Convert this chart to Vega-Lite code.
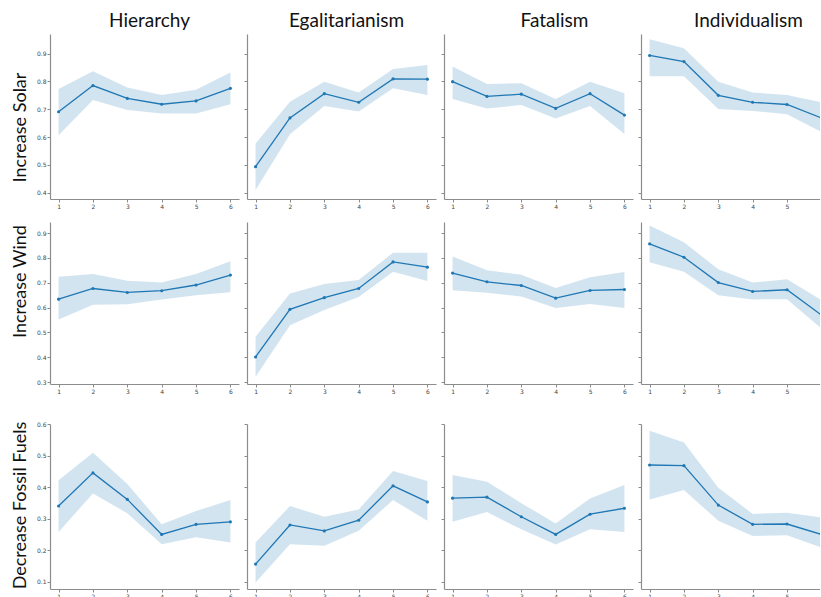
{
"$schema": "https://vega.github.io/schema/vega-lite/v6.json",
"padding": {"left": 10, "top": 12, "right": 0, "bottom": 0},
"config": {
  "view": {"stroke": null},
  "axis": {"domainColor": "#8c8c8c", "tickColor": "#8c8c8c", "labelColor": "#444", "labelFont": "DejaVu Sans", "labelFontSize": 6, "tickSize": 3, "labelPadding": 1, "grid": false, "domainWidth": 1.2},
  "title": {"font": "Lato", "fontSize": 19, "fontWeight": "normal", "color": "#111"}
},
"datasets": {"d": [
{"c":"H","o":"S","x":1,"m":0.691,"lo":0.607,"hi":0.773},
{"c":"H","o":"S","x":2,"m":0.785,"lo":0.733,"hi":0.836},
{"c":"H","o":"S","x":3,"m":0.739,"lo":0.697,"hi":0.778},
{"c":"H","o":"S","x":4,"m":0.718,"lo":0.685,"hi":0.751},
{"c":"H","o":"S","x":5,"m":0.730,"lo":0.685,"hi":0.770},
{"c":"H","o":"S","x":6,"m":0.775,"lo":0.718,"hi":0.832},
{"c":"E","o":"S","x":1,"m":0.494,"lo":0.410,"hi":0.577},
{"c":"E","o":"S","x":2,"m":0.669,"lo":0.610,"hi":0.727},
{"c":"E","o":"S","x":3,"m":0.756,"lo":0.712,"hi":0.799},
{"c":"E","o":"S","x":4,"m":0.725,"lo":0.692,"hi":0.760},
{"c":"E","o":"S","x":5,"m":0.809,"lo":0.775,"hi":0.844},
{"c":"E","o":"S","x":6,"m":0.808,"lo":0.751,"hi":0.859},
{"c":"F","o":"S","x":1,"m":0.799,"lo":0.737,"hi":0.853},
{"c":"F","o":"S","x":2,"m":0.746,"lo":0.703,"hi":0.791},
{"c":"F","o":"S","x":3,"m":0.754,"lo":0.715,"hi":0.793},
{"c":"F","o":"S","x":4,"m":0.703,"lo":0.667,"hi":0.737},
{"c":"F","o":"S","x":5,"m":0.756,"lo":0.712,"hi":0.799},
{"c":"F","o":"S","x":6,"m":0.679,"lo":0.611,"hi":0.757},
{"c":"I","o":"S","x":1,"m":0.893,"lo":0.818,"hi":0.951},
{"c":"I","o":"S","x":2,"m":0.871,"lo":0.818,"hi":0.919},
{"c":"I","o":"S","x":3,"m":0.750,"lo":0.701,"hi":0.799},
{"c":"I","o":"S","x":4,"m":0.725,"lo":0.694,"hi":0.760},
{"c":"I","o":"S","x":5,"m":0.717,"lo":0.682,"hi":0.751},
{"c":"I","o":"S","x":6,"m":0.669,"lo":0.619,"hi":0.725},
{"c":"H","o":"W","x":1,"m":0.634,"lo":0.552,"hi":0.724},
{"c":"H","o":"W","x":2,"m":0.677,"lo":0.611,"hi":0.735},
{"c":"H","o":"W","x":3,"m":0.661,"lo":0.613,"hi":0.708},
{"c":"H","o":"W","x":4,"m":0.668,"lo":0.633,"hi":0.701},
{"c":"H","o":"W","x":5,"m":0.691,"lo":0.650,"hi":0.735},
{"c":"H","o":"W","x":6,"m":0.731,"lo":0.662,"hi":0.787},
{"c":"E","o":"W","x":1,"m":0.401,"lo":0.321,"hi":0.482},
{"c":"E","o":"W","x":2,"m":0.593,"lo":0.529,"hi":0.657},
{"c":"E","o":"W","x":3,"m":0.640,"lo":0.590,"hi":0.695},
{"c":"E","o":"W","x":4,"m":0.677,"lo":0.643,"hi":0.711},
{"c":"E","o":"W","x":5,"m":0.784,"lo":0.744,"hi":0.821},
{"c":"E","o":"W","x":6,"m":0.763,"lo":0.707,"hi":0.821},
{"c":"F","o":"W","x":1,"m":0.739,"lo":0.670,"hi":0.806},
{"c":"F","o":"W","x":2,"m":0.704,"lo":0.660,"hi":0.751},
{"c":"F","o":"W","x":3,"m":0.689,"lo":0.645,"hi":0.732},
{"c":"F","o":"W","x":4,"m":0.638,"lo":0.598,"hi":0.679},
{"c":"F","o":"W","x":5,"m":0.669,"lo":0.614,"hi":0.722},
{"c":"F","o":"W","x":6,"m":0.673,"lo":0.598,"hi":0.743},
{"c":"I","o":"W","x":1,"m":0.857,"lo":0.783,"hi":0.931},
{"c":"I","o":"W","x":2,"m":0.803,"lo":0.744,"hi":0.863},
{"c":"I","o":"W","x":3,"m":0.701,"lo":0.650,"hi":0.755},
{"c":"I","o":"W","x":4,"m":0.665,"lo":0.633,"hi":0.701},
{"c":"I","o":"W","x":5,"m":0.672,"lo":0.634,"hi":0.714},
{"c":"I","o":"W","x":6,"m":0.570,"lo":0.516,"hi":0.630},
{"c":"H","o":"F","x":1,"m":0.340,"lo":0.258,"hi":0.422},
{"c":"H","o":"F","x":2,"m":0.445,"lo":0.380,"hi":0.509},
{"c":"H","o":"F","x":3,"m":0.361,"lo":0.317,"hi":0.410},
{"c":"H","o":"F","x":4,"m":0.250,"lo":0.219,"hi":0.282},
{"c":"H","o":"F","x":5,"m":0.282,"lo":0.241,"hi":0.324},
{"c":"H","o":"F","x":6,"m":0.290,"lo":0.224,"hi":0.359},
{"c":"E","o":"F","x":1,"m":0.156,"lo":0.098,"hi":0.224},
{"c":"E","o":"F","x":2,"m":0.280,"lo":0.219,"hi":0.340},
{"c":"E","o":"F","x":3,"m":0.261,"lo":0.214,"hi":0.306},
{"c":"E","o":"F","x":4,"m":0.295,"lo":0.262,"hi":0.329},
{"c":"E","o":"F","x":5,"m":0.404,"lo":0.359,"hi":0.451},
{"c":"E","o":"F","x":6,"m":0.353,"lo":0.293,"hi":0.419},
{"c":"F","o":"F","x":1,"m":0.365,"lo":0.290,"hi":0.438},
{"c":"F","o":"F","x":2,"m":0.368,"lo":0.321,"hi":0.417},
{"c":"F","o":"F","x":3,"m":0.306,"lo":0.266,"hi":0.349},
{"c":"F","o":"F","x":4,"m":0.250,"lo":0.218,"hi":0.285},
{"c":"F","o":"F","x":5,"m":0.314,"lo":0.266,"hi":0.364},
{"c":"F","o":"F","x":6,"m":0.333,"lo":0.258,"hi":0.407},
{"c":"I","o":"F","x":1,"m":0.470,"lo":0.361,"hi":0.579},
{"c":"I","o":"F","x":2,"m":0.468,"lo":0.391,"hi":0.541},
{"c":"I","o":"F","x":3,"m":0.343,"lo":0.293,"hi":0.398},
{"c":"I","o":"F","x":4,"m":0.282,"lo":0.245,"hi":0.315},
{"c":"I","o":"F","x":5,"m":0.283,"lo":0.247,"hi":0.319},
{"c":"I","o":"F","x":6,"m":0.250,"lo":0.209,"hi":0.304}
]},
"spacing": 13,
"vconcat": [
{"hconcat": [
 {"width": 189, "height": 165, "data": {"name": "d"},
  "title": {"text": "Hierarchy", "dx": 5, "offset": -16, "baseline": "bottom"},
  "transform": [{"filter": "datum.c == 'H' && datum.o == 'S'"}],
  "encoding": {"x": {"field": "x", "type": "quantitative", "scale": {"domain": [0.75, 6.25], "nice": false, "zero": false}, "axis": {"values": [1,2,3,4,5,6], "format": "d", "title": null}},
   "y": {"field": "m", "type": "quantitative", "scale": {"domain": [0.378, 0.97], "nice": false, "zero": false}, "axis": {"values": [0.4,0.5,0.6,0.7,0.8,0.9], "format": ".1f", "title": "Increase Solar", "titleFont": "Lato", "titleFontSize": 18, "titleFontWeight": "normal", "titleColor": "#111", "titleX": -25, "titleY": 93, "titleAlign": "center", "titleBaseline": "alphabetic"}}},
  "layer": [
   {"mark": {"type": "area", "color": "#1f77b4", "opacity": 0.2, "clip": true}, "encoding": {"y": {"field": "lo", "type": "quantitative", "title": "Increase Solar"}, "y2": {"field": "hi"}}},
   {"mark": {"type": "line", "color": "#1f77b4", "strokeWidth": 1.3, "clip": true}},
   {"mark": {"type": "point", "filled": true, "size": 10, "opacity": 1, "color": "#1f77b4", "clip": true}}
  ]},
 {"width": 189, "height": 165, "data": {"name": "d"},
  "title": {"text": "Egalitarianism", "dx": 5, "offset": -16, "baseline": "bottom"},
  "transform": [{"filter": "datum.c == 'E' && datum.o == 'S'"}],
  "encoding": {"x": {"field": "x", "type": "quantitative", "scale": {"domain": [0.75, 6.25], "nice": false, "zero": false}, "axis": {"values": [1,2,3,4,5,6], "format": "d", "title": null}},
   "y": {"field": "m", "type": "quantitative", "scale": {"domain": [0.378, 0.97], "nice": false, "zero": false}, "axis": {"values": [0.4,0.5,0.6,0.7,0.8,0.9], "labels": false, "title": null}}},
  "layer": [
   {"mark": {"type": "area", "color": "#1f77b4", "opacity": 0.2, "clip": true}, "encoding": {"y": {"field": "lo", "type": "quantitative", "title": null}, "y2": {"field": "hi"}}},
   {"mark": {"type": "line", "color": "#1f77b4", "strokeWidth": 1.3, "clip": true}},
   {"mark": {"type": "point", "filled": true, "size": 10, "opacity": 1, "color": "#1f77b4", "clip": true}}
  ]},
 {"width": 189, "height": 165, "data": {"name": "d"},
  "title": {"text": "Fatalism", "dx": 16, "offset": -16, "baseline": "bottom"},
  "transform": [{"filter": "datum.c == 'F' && datum.o == 'S'"}],
  "encoding": {"x": {"field": "x", "type": "quantitative", "scale": {"domain": [0.75, 6.25], "nice": false, "zero": false}, "axis": {"values": [1,2,3,4,5,6], "format": "d", "title": null}},
   "y": {"field": "m", "type": "quantitative", "scale": {"domain": [0.378, 0.97], "nice": false, "zero": false}, "axis": {"values": [0.4,0.5,0.6,0.7,0.8,0.9], "labels": false, "title": null}}},
  "layer": [
   {"mark": {"type": "area", "color": "#1f77b4", "opacity": 0.2, "clip": true}, "encoding": {"y": {"field": "lo", "type": "quantitative", "title": null}, "y2": {"field": "hi"}}},
   {"mark": {"type": "line", "color": "#1f77b4", "strokeWidth": 1.3, "clip": true}},
   {"mark": {"type": "point", "filled": true, "size": 10, "opacity": 1, "color": "#1f77b4", "clip": true}}
  ]},
 {"width": 179, "height": 165, "data": {"name": "d"},
  "title": {"text": "Individualism", "dx": 18, "offset": -16, "baseline": "bottom"},
  "transform": [{"filter": "datum.c == 'I' && datum.o == 'S'"}],
  "encoding": {"x": {"field": "x", "type": "quantitative", "scale": {"domain": [0.75, 5.96], "nice": false, "zero": false}, "axis": {"values": [1,2,3,4,5], "format": "d", "title": null}},
   "y": {"field": "m", "type": "quantitative", "scale": {"domain": [0.378, 0.97], "nice": false, "zero": false}, "axis": {"values": [0.4,0.5,0.6,0.7,0.8,0.9], "labels": false, "title": null}}},
  "layer": [
   {"mark": {"type": "area", "color": "#1f77b4", "opacity": 0.2, "clip": true}, "encoding": {"y": {"field": "lo", "type": "quantitative", "title": null}, "y2": {"field": "hi"}}},
   {"mark": {"type": "line", "color": "#1f77b4", "strokeWidth": 1.3, "clip": true}},
   {"mark": {"type": "point", "filled": true, "size": 10, "opacity": 1, "color": "#1f77b4", "clip": true}}
  ]}
], "spacing": 8, "bounds": "flush"},
{"hconcat": [
 {"width": 189, "height": 162, "data": {"name": "d"},
  "transform": [{"filter": "datum.c == 'H' && datum.o == 'W'"}],
  "encoding": {"x": {"field": "x", "type": "quantitative", "scale": {"domain": [0.75, 6.25], "nice": false, "zero": false}, "axis": {"values": [1,2,3,4,5,6], "format": "d", "title": "x", "titleColor": "#ffffff", "titleFontSize": 2, "titlePadding": 12}},
   "y": {"field": "m", "type": "quantitative", "scale": {"domain": [0.292, 0.945], "nice": false, "zero": false}, "axis": {"values": [0.3,0.4,0.5,0.6,0.7,0.8,0.9], "format": ".1f", "title": "Increase Wind", "titleFont": "Lato", "titleFontSize": 18, "titleFontWeight": "normal", "titleColor": "#111", "titleX": -25, "titleY": 59, "titleAlign": "center", "titleBaseline": "alphabetic"}}},
  "layer": [
   {"mark": {"type": "area", "color": "#1f77b4", "opacity": 0.2, "clip": true}, "encoding": {"y": {"field": "lo", "type": "quantitative", "title": "Increase Wind"}, "y2": {"field": "hi"}}},
   {"mark": {"type": "line", "color": "#1f77b4", "strokeWidth": 1.3, "clip": true}},
   {"mark": {"type": "point", "filled": true, "size": 10, "opacity": 1, "color": "#1f77b4", "clip": true}}
  ]},
 {"width": 189, "height": 162, "data": {"name": "d"},
  "transform": [{"filter": "datum.c == 'E' && datum.o == 'W'"}],
  "encoding": {"x": {"field": "x", "type": "quantitative", "scale": {"domain": [0.75, 6.25], "nice": false, "zero": false}, "axis": {"values": [1,2,3,4,5,6], "format": "d", "title": null}},
   "y": {"field": "m", "type": "quantitative", "scale": {"domain": [0.292, 0.945], "nice": false, "zero": false}, "axis": {"values": [0.3,0.4,0.5,0.6,0.7,0.8,0.9], "labels": false, "title": null}}},
  "layer": [
   {"mark": {"type": "area", "color": "#1f77b4", "opacity": 0.2, "clip": true}, "encoding": {"y": {"field": "lo", "type": "quantitative", "title": null}, "y2": {"field": "hi"}}},
   {"mark": {"type": "line", "color": "#1f77b4", "strokeWidth": 1.3, "clip": true}},
   {"mark": {"type": "point", "filled": true, "size": 10, "opacity": 1, "color": "#1f77b4", "clip": true}}
  ]},
 {"width": 189, "height": 162, "data": {"name": "d"},
  "transform": [{"filter": "datum.c == 'F' && datum.o == 'W'"}],
  "encoding": {"x": {"field": "x", "type": "quantitative", "scale": {"domain": [0.75, 6.25], "nice": false, "zero": false}, "axis": {"values": [1,2,3,4,5,6], "format": "d", "title": null}},
   "y": {"field": "m", "type": "quantitative", "scale": {"domain": [0.292, 0.945], "nice": false, "zero": false}, "axis": {"values": [0.3,0.4,0.5,0.6,0.7,0.8,0.9], "labels": false, "title": null}}},
  "layer": [
   {"mark": {"type": "area", "color": "#1f77b4", "opacity": 0.2, "clip": true}, "encoding": {"y": {"field": "lo", "type": "quantitative", "title": null}, "y2": {"field": "hi"}}},
   {"mark": {"type": "line", "color": "#1f77b4", "strokeWidth": 1.3, "clip": true}},
   {"mark": {"type": "point", "filled": true, "size": 10, "opacity": 1, "color": "#1f77b4", "clip": true}}
  ]},
 {"width": 179, "height": 162, "data": {"name": "d"},
  "transform": [{"filter": "datum.c == 'I' && datum.o == 'W'"}],
  "encoding": {"x": {"field": "x", "type": "quantitative", "scale": {"domain": [0.75, 5.96], "nice": false, "zero": false}, "axis": {"values": [1,2,3,4,5], "format": "d", "title": null}},
   "y": {"field": "m", "type": "quantitative", "scale": {"domain": [0.292, 0.945], "nice": false, "zero": false}, "axis": {"values": [0.3,0.4,0.5,0.6,0.7,0.8,0.9], "labels": false, "title": null}}},
  "layer": [
   {"mark": {"type": "area", "color": "#1f77b4", "opacity": 0.2, "clip": true}, "encoding": {"y": {"field": "lo", "type": "quantitative", "title": null}, "y2": {"field": "hi"}}},
   {"mark": {"type": "line", "color": "#1f77b4", "strokeWidth": 1.3, "clip": true}},
   {"mark": {"type": "point", "filled": true, "size": 10, "opacity": 1, "color": "#1f77b4", "clip": true}}
  ]}
], "spacing": 8, "bounds": "flush"},
{"hconcat": [
 {"width": 189, "height": 165, "data": {"name": "d"},
  "transform": [{"filter": "datum.c == 'H' && datum.o == 'F'"}],
  "encoding": {"x": {"field": "x", "type": "quantitative", "scale": {"domain": [0.75, 6.25], "nice": false, "zero": false}, "axis": {"values": [1,2,3,4,5,6], "format": "d", "title": null}},
   "y": {"field": "m", "type": "quantitative", "scale": {"domain": [0.077, 0.6], "nice": false, "zero": false}, "axis": {"values": [0.1,0.2,0.3,0.4,0.5,0.6], "format": ".1f", "title": "Decrease Fossil Fuels", "titleFont": "Lato", "titleFontSize": 18, "titleFontWeight": "normal", "titleColor": "#111", "titleX": -25, "titleY": 81, "titleAlign": "center", "titleBaseline": "alphabetic"}}},
  "layer": [
   {"mark": {"type": "area", "color": "#1f77b4", "opacity": 0.2, "clip": true}, "encoding": {"y": {"field": "lo", "type": "quantitative", "title": "Decrease Fossil Fuels"}, "y2": {"field": "hi"}}},
   {"mark": {"type": "line", "color": "#1f77b4", "strokeWidth": 1.3, "clip": true}},
   {"mark": {"type": "point", "filled": true, "size": 10, "opacity": 1, "color": "#1f77b4", "clip": true}}
  ]},
 {"width": 189, "height": 165, "data": {"name": "d"},
  "transform": [{"filter": "datum.c == 'E' && datum.o == 'F'"}],
  "encoding": {"x": {"field": "x", "type": "quantitative", "scale": {"domain": [0.75, 6.25], "nice": false, "zero": false}, "axis": {"values": [1,2,3,4,5,6], "format": "d", "title": null}},
   "y": {"field": "m", "type": "quantitative", "scale": {"domain": [0.077, 0.6], "nice": false, "zero": false}, "axis": {"values": [0.1,0.2,0.3,0.4,0.5,0.6], "labels": false, "title": null}}},
  "layer": [
   {"mark": {"type": "area", "color": "#1f77b4", "opacity": 0.2, "clip": true}, "encoding": {"y": {"field": "lo", "type": "quantitative", "title": null}, "y2": {"field": "hi"}}},
   {"mark": {"type": "line", "color": "#1f77b4", "strokeWidth": 1.3, "clip": true}},
   {"mark": {"type": "point", "filled": true, "size": 10, "opacity": 1, "color": "#1f77b4", "clip": true}}
  ]},
 {"width": 189, "height": 165, "data": {"name": "d"},
  "transform": [{"filter": "datum.c == 'F' && datum.o == 'F'"}],
  "encoding": {"x": {"field": "x", "type": "quantitative", "scale": {"domain": [0.75, 6.25], "nice": false, "zero": false}, "axis": {"values": [1,2,3,4,5,6], "format": "d", "title": null}},
   "y": {"field": "m", "type": "quantitative", "scale": {"domain": [0.077, 0.6], "nice": false, "zero": false}, "axis": {"values": [0.1,0.2,0.3,0.4,0.5,0.6], "labels": false, "title": null}}},
  "layer": [
   {"mark": {"type": "area", "color": "#1f77b4", "opacity": 0.2, "clip": true}, "encoding": {"y": {"field": "lo", "type": "quantitative", "title": null}, "y2": {"field": "hi"}}},
   {"mark": {"type": "line", "color": "#1f77b4", "strokeWidth": 1.3, "clip": true}},
   {"mark": {"type": "point", "filled": true, "size": 10, "opacity": 1, "color": "#1f77b4", "clip": true}}
  ]},
 {"width": 179, "height": 165, "data": {"name": "d"},
  "transform": [{"filter": "datum.c == 'I' && datum.o == 'F'"}],
  "encoding": {"x": {"field": "x", "type": "quantitative", "scale": {"domain": [0.75, 5.96], "nice": false, "zero": false}, "axis": {"values": [1,2,3,4,5], "format": "d", "title": null}},
   "y": {"field": "m", "type": "quantitative", "scale": {"domain": [0.077, 0.6], "nice": false, "zero": false}, "axis": {"values": [0.1,0.2,0.3,0.4,0.5,0.6], "labels": false, "title": null}}},
  "layer": [
   {"mark": {"type": "area", "color": "#1f77b4", "opacity": 0.2, "clip": true}, "encoding": {"y": {"field": "lo", "type": "quantitative", "title": null}, "y2": {"field": "hi"}}},
   {"mark": {"type": "line", "color": "#1f77b4", "strokeWidth": 1.3, "clip": true}},
   {"mark": {"type": "point", "filled": true, "size": 10, "opacity": 1, "color": "#1f77b4", "clip": true}}
  ]}
], "spacing": 8, "bounds": "flush"}
]
}
